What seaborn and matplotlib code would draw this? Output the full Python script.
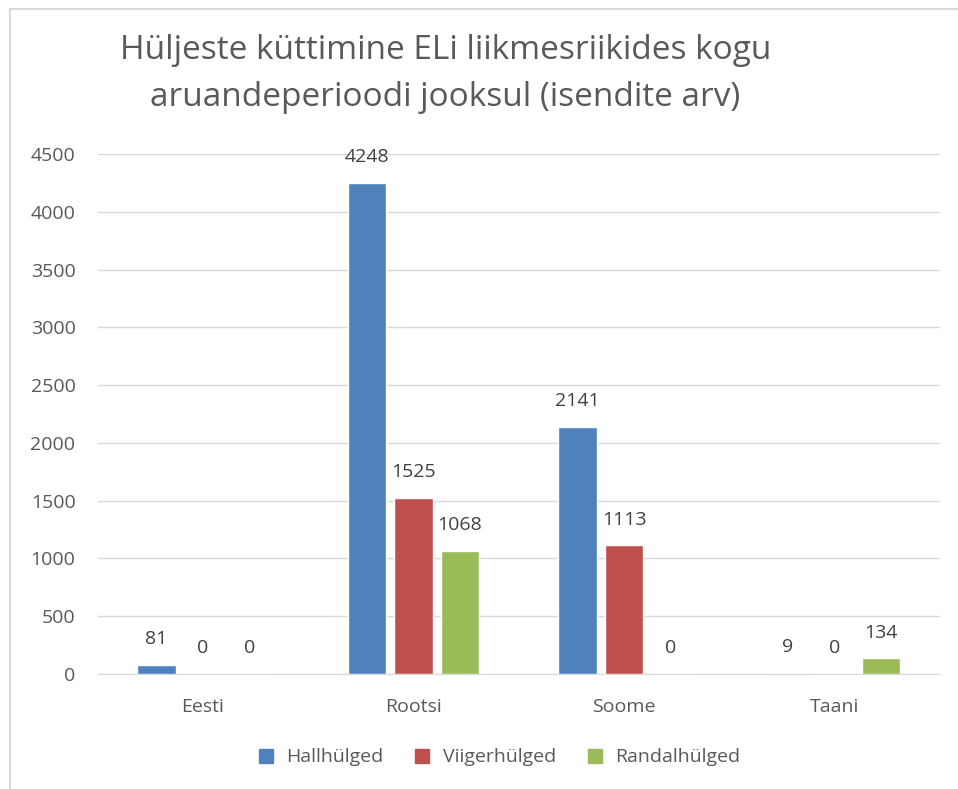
import numpy as np
import pandas as pd
import seaborn as sns
import matplotlib.pyplot as plt
from matplotlib.lines import Line2D

countries = ['Eesti', 'Rootsi', 'Soome', 'Taani']
series = ['Hallhülged', 'Viigerhülged', 'Randalhülged']
hallhulged = [81, 4248, 2141, 9]
viigerhulged = [0, 1525, 1113, 0]
randalhulged = [0, 1068, 0, 134]
colors = ['#4f81bd', '#c0504d', '#9bbb59']
title = 'Hüljeste küttimine ELi liikmesriikides kogu\naruandeperioodi jooksul (isendite arv)'

if __name__ == '__main__':
    df = pd.DataFrame({'country': countries * 3,
                       'series': np.repeat(series, len(countries)),
                       'value': hallhulged + viigerhulged + randalhulged})

    sns.set_style('white')
    plt.rcParams['font.family'] = ['Open Sans', 'DejaVu Sans']
    text_col = '#595959'
    grid_col = '#d9d9d9'

    f = plt.figure(figsize=(9.58, 7.89), dpi=100)
    ax = f.add_axes([0.102, 0.1458, 0.879, 0.659])

    sns.barplot(df, x='country', y='value', hue='series', palette=colors, width=0.663, gap=0.18,
                saturation=1, ax=ax, legend=False)

    for c in ax.containers:
        ax.bar_label(c, fmt='%d', padding=12, fontsize=14, color='#404040')

    ax.set(ylim=(0, 4500), xlabel='', ylabel='')
    ax.set_xlim(-0.5, 3.5)
    ax.set_yticks(np.arange(0, 4501, 500))
    ax.yaxis.grid(True, color=grid_col, linewidth=1)
    ax.set_axisbelow(True)
    for s in ['top', 'right', 'left']:
        ax.spines[s].set_visible(False)
    ax.spines['bottom'].set_color(grid_col)
    ax.tick_params(axis='both', length=0, labelsize=14, labelcolor=text_col)
    ax.tick_params(axis='y', pad=16)
    ax.tick_params(axis='x', pad=17)

    f.text(0.465, 0.906, title, ha='center', va='center', fontsize=24, color=text_col, linespacing=1.55)

    handles = [Line2D([], [], marker='s', linestyle='', markersize=10, color=c) for c in colors]
    f.legend(handles, series, loc='center', bbox_to_anchor=(0.515, 0.04), ncol=3, frameon=False,
             fontsize=14, labelcolor=text_col, handletextpad=0.05, columnspacing=1.0)

    # chart area border (only left and top are inside the picture)
    f.add_artist(Line2D([0.0105, 0.0105], [0, 0.989], transform=f.transFigure, color='#d9d9d9', linewidth=1.5))
    f.add_artist(Line2D([0.0105, 1], [0.989, 0.989], transform=f.transFigure, color='#d9d9d9', linewidth=1.5))

    plt.savefig('out.png', dpi=100)
